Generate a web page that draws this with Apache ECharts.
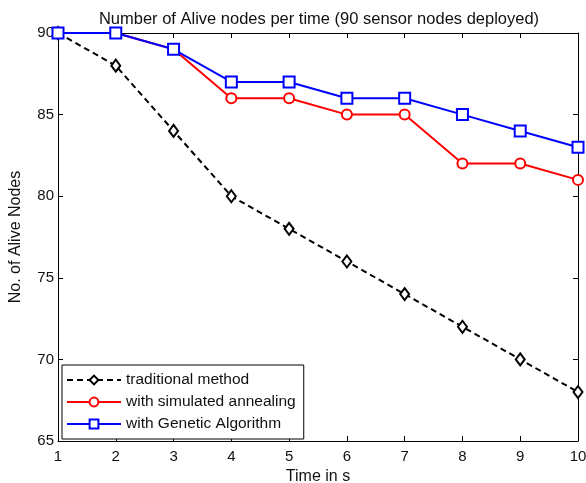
<!DOCTYPE html>
<html>
<head>
<meta charset="utf-8">
<script src="https://cdn.jsdelivr.net/npm/echarts@6/dist/echarts.min.js"></script>
<style>
  html, body { margin: 0; padding: 0; background: #fff; }
  #main { width: 586px; height: 483px; }
</style>
</head>
<body>
<div id="main"></div>
<script>
var timeSteps = [1, 2, 3, 4, 5, 6, 7, 8, 9, 10];
var traditional = [90, 88, 84, 80, 78, 76, 74, 72, 70, 68];
var annealing = [90, 90, 89, 86, 86, 85, 85, 82, 82, 81];
var genetic = [90, 90, 89, 87, 87, 86, 86, 85, 84, 83];

function pairs(vals) {
    var out = [];
    for (var i = 0; i < vals.length; i++) {
        out.push([timeSteps[i], vals[i]]);
    }
    return out;
}

var font = 'Liberation Sans, Arial, sans-serif';
var axisCommon = {
    axisLine: { lineStyle: { color: '#000', width: 1 } },
    axisTick: { inside: true, length: 5, lineStyle: { color: '#000' } },
    splitLine: { show: false }
};

var chart = echarts.init(document.getElementById('main'));
chart.setOption({
    animation: false,
    title: {
        text: 'Number of Alive nodes per time (90 sensor nodes deployed)',
        left: 314,
        top: 6,
        textAlign: 'center',
        textStyle: { fontFamily: font, fontSize: 16.5, fontWeight: 'normal', color: '#111' }
    },
    grid: { left: 58, right: 8, top: 33, bottom: 42, outerBoundsMode: 'none', containLabel: false },
    legend: {
        left: 62,
        top: 365,
        orient: 'vertical',
        itemGap: 4,
        itemWidth: 54,
        itemHeight: 11,
        padding: [6, 8, 6, 4],
        borderColor: '#000',
        borderWidth: 1,
        backgroundColor: '#fff',
        textStyle: { fontFamily: font, fontSize: 15.5, color: '#111', lineHeight: 18 },
        data: ['traditional method', 'with simulated annealing', 'with Genetic Algorithm']
    },
    xAxis: [
        Object.assign({
            type: 'value', min: 1, max: 10, interval: 1,
            name: 'Time in s', nameLocation: 'middle', nameGap: 28,
            nameTextStyle: { fontFamily: font, fontSize: 16, color: '#111' },
            axisLabel: { fontFamily: font, fontSize: 15, color: '#111', margin: 8 }
        }, axisCommon),
        Object.assign({
            type: 'value', min: 1, max: 10, interval: 1, position: 'top',
            axisLabel: { show: false }
        }, axisCommon)
    ],
    yAxis: [
        Object.assign({
            type: 'value', min: 65, max: 90, interval: 5,
            name: 'No. of Alive Nodes', nameLocation: 'middle', nameGap: 34,
            nameTextStyle: { fontFamily: font, fontSize: 16, color: '#111' },
            axisLabel: { fontFamily: font, fontSize: 15, color: '#111', margin: 4 }
        }, axisCommon),
        Object.assign({
            type: 'value', min: 65, max: 90, interval: 5, position: 'right',
            axisLabel: { show: false }
        }, axisCommon)
    ],
    series: [
        {
            name: 'traditional method',
            type: 'line',
            data: pairs(traditional),
            symbol: 'diamond',
            symbolSize: [9, 12],
            z: 3,
            lineStyle: { color: '#000', width: 2, type: [6, 4] },
            itemStyle: { color: '#fff', borderColor: '#000', borderWidth: 2 }
        },
        {
            name: 'with simulated annealing',
            type: 'line',
            data: pairs(annealing),
            symbol: 'circle',
            symbolSize: 10,
            z: 4,
            lineStyle: { color: '#ff0000', width: 2 },
            itemStyle: { color: '#fff', borderColor: '#ff0000', borderWidth: 2 }
        },
        {
            name: 'with Genetic Algorithm',
            type: 'line',
            data: pairs(genetic),
            symbol: 'rect',
            symbolSize: 11,
            z: 5,
            lineStyle: { color: '#0000ff', width: 2 },
            itemStyle: { color: '#fff', borderColor: '#0000ff', borderWidth: 2 }
        }
    ]
});
</script>
</body>
</html>
